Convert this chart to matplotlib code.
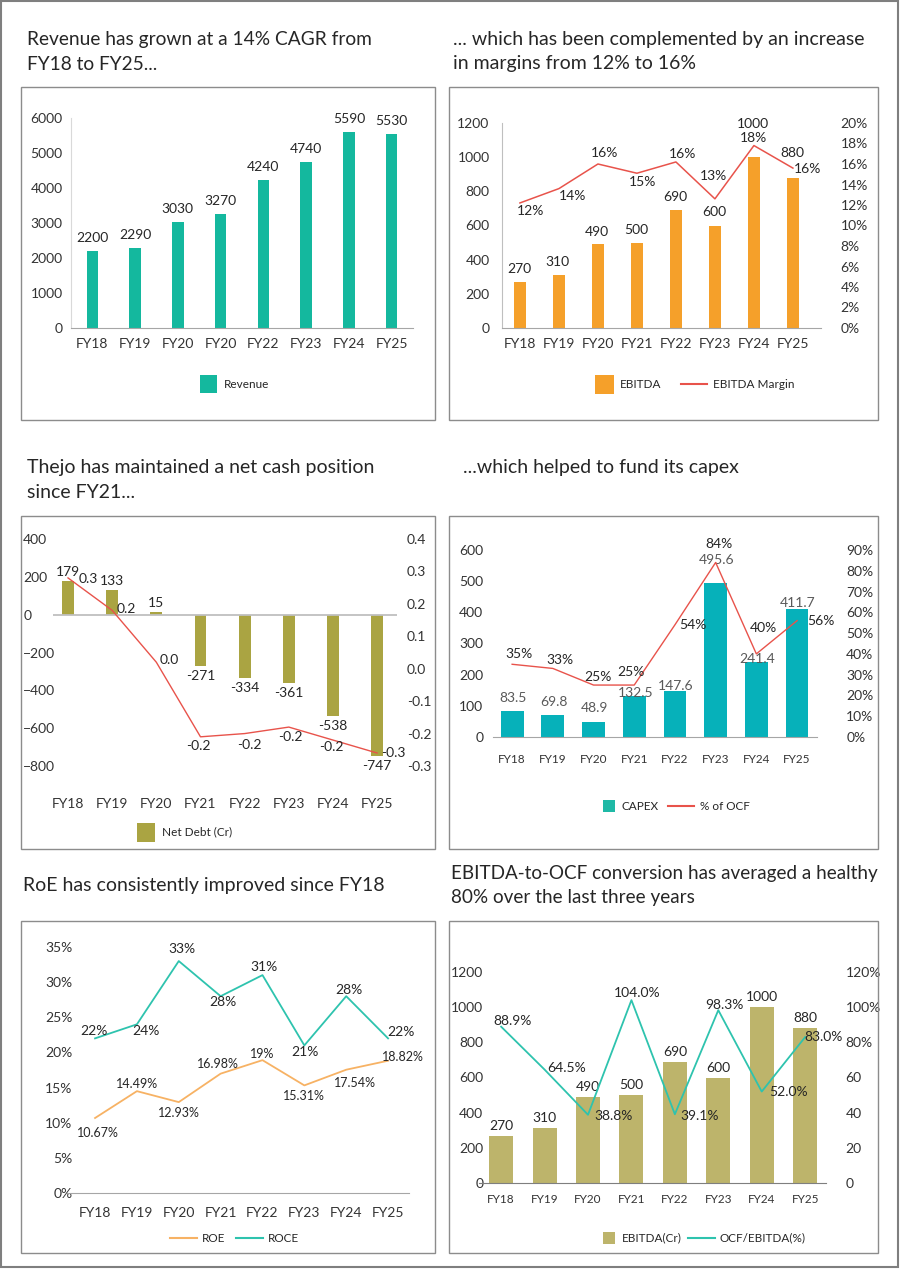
import matplotlib
matplotlib.use("Agg")
import matplotlib.pyplot as plt
from matplotlib.patches import Rectangle
from matplotlib.lines import Line2D

plt.rcParams['font.family'] = ['Lato', 'DejaVu Sans']

# ---- data ----
years = ["FY18", "FY19", "FY20", "FY21", "FY22", "FY23", "FY24", "FY25"]
revenue_years = ["FY18", "FY19", "FY20", "FY20", "FY22", "FY23", "FY24", "FY25"]
revenue = [2200, 2290, 3030, 3270, 4240, 4740, 5590, 5530]

ebitda = [270, 310, 490, 500, 690, 600, 1000, 880]
ebitda_margin = [12.2, 13.6, 16.0, 15.1, 16.2, 12.6, 17.8, 15.6]

net_debt = [179, 133, 15, -271, -334, -361, -538, -747]
net_debt_ratio = [0.28, 0.18, 0.02, -0.21, -0.20, -0.18, -0.22, -0.26]

capex = [83.5, 69.8, 48.9, 132.5, 147.6, 495.6, 241.4, 411.7]
capex_pct_ocf = [35, 33, 25, 25, 54, 84, 40, 56]

roe = [10.67, 14.49, 12.93, 16.98, 18.9, 15.31, 17.54, 18.82]
roe_labels = ["10.67%", "14.49%", "12.93%", "16.98%", "19%", "15.31%", "17.54%", "18.82%"]
roce = [22, 24, 33, 28, 31, 21, 28, 22]

ocf_to_ebitda = [88.9, 64.5, 38.8, 104.0, 39.1, 98.3, 52.0, 83.0]
ocf_ticks = ["0", "20", "40", "60", "80%", "100%", "120%"]

# colours
teal1 = "#14b89e"
teal2 = "#06b1ba"
teal_line = "#2ec3ae"
orange = "#f5a02a"
orange_line = "#f7b264"
red = "#e8534b"
olive1 = "#aaa442"
olive2 = "#bdb46b"
txt = "#262626"

W, H = 900, 1271
fig = plt.figure(figsize=(W / 100, H / 100), dpi=100)
x = list(range(len(years)))


def px_axes(x0, y0, x1, y1):
    return fig.add_axes([x0 / W, 1 - y1 / H, (x1 - x0) / W, (y1 - y0) / H])


def box(x0, y0, x1, y1, color="#8c8c8c", lw=1.0):
    fig.add_artist(Rectangle((x0 / W, 1 - y1 / H), (x1 - x0) / W, (y1 - y0) / H,
                             transform=fig.transFigure, fill=False, ec=color, lw=lw))


def ftext(xp, yp, s, size=8.5, **kw):
    fig.text(xp / W, 1 - yp / H, s, fontsize=size, va='center', color=txt, **kw)


def leg_patch(x0, x1, yc, h, color):
    fig.add_artist(Rectangle((x0 / W, 1 - (yc + h / 2) / H), (x1 - x0) / W, h / H,
                             transform=fig.transFigure, color=color, lw=0))


def leg_line(x0, x1, yc, color):
    fig.add_artist(Line2D([x0 / W, x1 / W], [1 - yc / H] * 2,
                          transform=fig.transFigure, color=color, lw=1.5))


def style(ax, size=10):
    for s in ax.spines.values():
        s.set_visible(False)
    ax.tick_params(length=0, labelsize=size, colors='#333333')
    ax.patch.set_alpha(0)


def label(ax, xv, yv, s, dx, dy, size=9.5, color=txt):
    ax.annotate(s, (xv, yv), xytext=(dx, dy), textcoords='offset pixels',
                ha='center', va='center', fontsize=size, color=color)


# ---- frames and titles ----
box(1, 1, 898, 1267, color="#7f7f7f", lw=1.5)
for (bx0, by0, bx1, by1) in [(21, 87, 435, 420), (449, 87, 878, 420),
                             (21, 516, 435, 849), (449, 516, 878, 849),
                             (21, 921, 435, 1253), (449, 921, 878, 1253)]:
    box(bx0, by0, bx1, by1)

tsize = 14
ftext(27, 40, "Revenue has grown at a 14% CAGR from", 13.8)
ftext(27, 64, "FY18 to FY25...", 13.8)
ftext(453, 40, "... which has been complemented by an increase", tsize)
ftext(453, 64, "in margins from 12% to 16%", tsize)
ftext(27, 468, "Thejo has maintained a net cash position", tsize)
ftext(27, 492, "since FY21...", tsize)
ftext(463, 468, "...which helped to fund its capex", tsize)
ftext(23, 885, "RoE has consistently improved since FY18", tsize)
ftext(451, 874, "EBITDA-to-OCF conversion has averaged a healthy", 13.6)
ftext(451, 898, "80% over the last three years", 13.6)

# ---- panel 1: revenue ----
ax1 = px_axes(71, 118, 413, 328)
style(ax1)
ax1.bar(x, revenue, width=0.27, color=teal1)
ax1.set_xlim(-0.5, 7.5)
ax1.set_ylim(0, 6000)
ax1.set_yticks(range(0, 6001, 1000))
ax1.set_xticks(x, revenue_years)
ax1.spines['bottom'].set_visible(True)
ax1.spines['bottom'].set_color('#a6a6a6')
ax1.spines['left'].set_visible(True)
ax1.spines['left'].set_color('#d9d9d9')
ax1.tick_params(axis='x', pad=7)
ax1.tick_params(axis='y', pad=6)
for i, v in enumerate(revenue):
    label(ax1, i, v, str(v), 0, 13, size=10)
leg_patch(200, 217, 384, 18, teal1)
ftext(224, 384, "Revenue")

# ---- panel 2: EBITDA and margin ----
ax2 = px_axes(502, 123, 821, 328)
style(ax2)
ax2.bar(x, ebitda, width=0.31, color=orange)
ax2.set_xlim(-0.46, 7.72)
ax2.set_ylim(0, 1200)
ax2.set_yticks(range(0, 1201, 200))
ax2.set_xticks(x, years)
ax2.spines['bottom'].set_visible(True)
ax2.spines['bottom'].set_color('#a6a6a6')
ax2.spines['left'].set_visible(True)
ax2.spines['left'].set_color('#bfbfbf')
ax2.tick_params(axis='x', pad=7)
ax2.tick_params(axis='y', pad=9)
ebitda_dy = [13, 13, 12, 13, 13, 13, 33, 25]
for i, v in enumerate(ebitda):
    label(ax2, i, v, str(v), -1, ebitda_dy[i], size=10)
ax2r = ax2.twinx()
style(ax2r)
ax2r.plot(x, ebitda_margin, color=red, lw=1.1)
ax2r.set_ylim(0, 20)
ax2r.set_yticks(range(0, 21, 2), [f"{v}%" for v in range(0, 21, 2)])
ax2r.tick_params(axis='y', pad=14)
margin_off = [(11, -8), (14, -7), (7, 11), (6, -9), (7, 8), (-1, 23), (0, 8), (15, -1)]
for i, v in enumerate(ebitda_margin):
    label(ax2r, i, v, f"{v:.0f}%", *margin_off[i], size=10)
leg_patch(595, 614, 384, 19, orange)
ftext(620, 384, "EBITDA")
leg_line(681, 707, 384, red)
ftext(713, 384, "EBITDA Margin")

# ---- panel 3: net debt ----
ax3 = px_axes(53, 539, 397, 766)
style(ax3)
ax3.bar(x, net_debt, width=0.27, color=olive1)
ax3.axhline(0, color='#bfbfbf', lw=1.3)
ax3.set_xlim(-0.34, 7.45)
ax3.set_ylim(-800, 400)
ax3.set_yticks(range(-800, 401, 200))
ax3.set_xticks(x, years)
ax3.tick_params(axis='x', pad=23)
ax3.tick_params(axis='y', pad=21.5)
plt.setp(ax3.get_yticklabels(), ha='left')
for i, v in enumerate(net_debt):
    label(ax3, i, v, str(v), 0, 9 if v > 0 else -10, size=10)
ax3r = ax3.twinx()
style(ax3r)
ax3r.plot(x, net_debt_ratio, color=red, lw=1.0)
ax3r.set_ylim(-0.3, 0.4)
ratio_ticks = [-0.3, -0.2, -0.1, 0.0, 0.1, 0.2, 0.3, 0.4]
ax3r.set_yticks(ratio_ticks, [f"{v:.1f}" for v in ratio_ticks])
ax3r.tick_params(axis='y', pad=7)
ratio_off = [(20, -1), (14, 1), (13, 2), (-2, -9), (5, -11), (2, -10), (-2, -7), (16, 0)]
for i, v in enumerate(net_debt_ratio):
    label(ax3r, i, v, f"{v:.1f}", *ratio_off[i], size=10)
leg_patch(137, 155, 832, 19, olive1)
ftext(162, 832, "Net Debt (Cr)")

# ---- panel 4: capex ----
ax4 = px_axes(493, 550, 817, 737)
style(ax4)
ax4.bar(x, capex, width=0.56, color=teal2)
ax4.set_xlim(-0.47, 7.49)
ax4.set_ylim(0, 600)
ax4.set_yticks(range(0, 601, 100))
ax4.set_xticks(x, years)
ax4.spines['bottom'].set_visible(True)
ax4.spines['bottom'].set_color('#a6a6a6')
ax4.tick_params(axis='x', pad=12, labelsize=8.5)
ax4.tick_params(axis='y', pad=7)
capex_dy = [13, 13, 14, 3, 5, 23, 3, 6]
for i, v in enumerate(capex):
    label(ax4, i, v, f"{v:.1f}", 1, capex_dy[i], size=10, color='#595959')
ax4r = ax4.twinx()
style(ax4r)
ax4r.plot(x, capex_pct_ocf, color=red, lw=1.0)
ax4r.set_ylim(0, 90)
ax4r.set_yticks(range(0, 91, 10), [f"{v}%" for v in range(0, 91, 10)])
ax4r.tick_params(axis='y', pad=21)
pct_off = [(7, 10), (7, 8), (4, 8), (-3, 13), (18, 0), (3, 18), (7, 26), (24, 0)]
for i, v in enumerate(capex_pct_ocf):
    label(ax4r, i, v, f"{v}%", *pct_off[i], size=10)
leg_patch(603, 615, 806, 12, "#1fb9a6")
ftext(622, 806, "CAPEX")
leg_line(668, 694, 806, red)
ftext(700, 806, "% of OCF")

# ---- panel 5: RoE / RoCE ----
ax5 = px_axes(67, 947, 409, 1193)
style(ax5)
ax5.plot(x, roe, color=orange_line, lw=1.3)
ax5.plot(x, roce, color=teal_line, lw=1.3)
ax5.set_xlim(-0.67, 7.5)
ax5.set_ylim(0, 35)
ax5.set_yticks(range(0, 36, 5), [f"{v}%" for v in range(0, 36, 5)])
ax5.set_xticks(x, years)
ax5.spines['bottom'].set_visible(True)
ax5.spines['bottom'].set_color('#a6a6a6')
ax5.tick_params(axis='x', pad=10)
ax5.tick_params(axis='y', pad=-4)
roce_off = [(-1, 7), (9, -7), (3, 12), (2, -6), (2, 8), (1, -7), (3, 6), (13, 6)]
for i, v in enumerate(roce):
    label(ax5, i, v, f"{v}%", *roce_off[i], size=10)
roe_off = [(3, -15), (0, 7), (0, -11), (-3, 10), (0, 6), (0, -11), (9, -13), (15, 4)]
for i, v in enumerate(roe):
    label(ax5, i, v, roe_labels[i], *roe_off[i], size=9)
leg_line(170, 197, 1238, orange_line)
ftext(202, 1238, "ROE")
leg_line(236, 263, 1238, teal_line)
ftext(268, 1238, "ROCE")

# ---- panel 6: EBITDA vs OCF/EBITDA ----
ax6 = px_axes(479, 972, 826, 1183)
style(ax6)
ax6.bar(x, ebitda, width=0.55, color=olive2)
ax6.set_xlim(-0.51, 7.48)
ax6.set_ylim(0, 1200)
ax6.set_yticks(range(0, 1201, 200))
ax6.set_xticks(x, years)
ax6.spines['bottom'].set_visible(True)
ax6.spines['bottom'].set_color('#7f7f7f')
ax6.tick_params(axis='x', pad=8, labelsize=8.5)
ax6.tick_params(axis='y', pad=-3)
for i, v in enumerate(ebitda):
    label(ax6, i, v, str(v), 0, 10, size=10)
ax6r = ax6.twinx()
style(ax6r)
ax6r.plot(x, ocf_to_ebitda, color=teal_line, lw=1.3)
ax6r.set_ylim(0, 120)
ax6r.set_yticks(range(0, 121, 20), ocf_ticks)
ax6r.tick_params(axis='y', pad=14)
ocf_off = [(11, 6), (22, 2), (26, -1), (6, 7), (25, -2), (6, 5), (27, 0), (18, 0)]
for i, v in enumerate(ocf_to_ebitda):
    label(ax6r, i, v, f"{v:.1f}%", *ocf_off[i], size=10)
leg_patch(603, 615, 1238, 12, olive2)
ftext(622, 1238, "EBITDA(Cr)")
leg_line(688, 715, 1238, teal_line)
ftext(720, 1238, "OCF/EBITDA(%)")

fig.savefig("out.png", dpi=100)
